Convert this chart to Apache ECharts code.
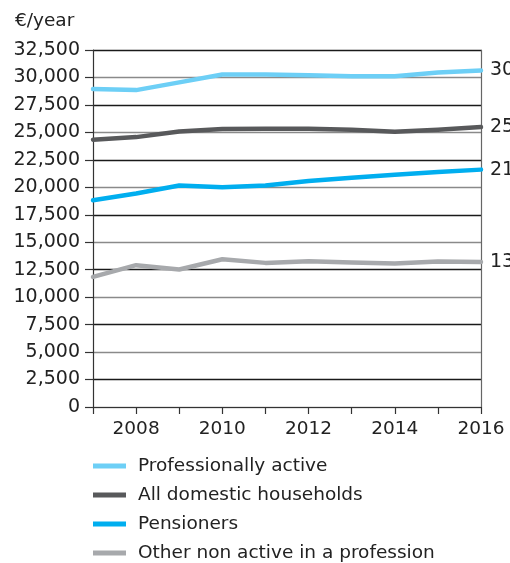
<!DOCTYPE html>
<html>
<head>
<meta charset="utf-8">
<script src="https://cdn.jsdelivr.net/npm/echarts@6/dist/echarts.min.js"></script>
<style>
  html, body { margin: 0; padding: 0; background: #fff; }
  #chart { width: 510px; height: 563px; }
</style>
</head>
<body>
<div id="chart"></div>
<script>
// Annual net income per household type, euros per year
const years = [2007, 2008, 2009, 2010, 2011, 2012, 2013, 2014, 2015, 2016];
const professionallyActive = [28950, 28850, 29550, 30270, 30270, 30200, 30100, 30100, 30450, 30640];
const allHouseholds = [24340, 24570, 25090, 25300, 25340, 25340, 25250, 25060, 25250, 25480];
const pensioners = [18820, 19430, 20160, 20000, 20160, 20580, 20880, 21150, 21390, 21610];
const otherNonActive = [11850, 12910, 12520, 13450, 13120, 13270, 13150, 13060, 13250, 13210];

const seriesNames = [
  'Professionally active',
  'All domestic households',
  'Pensioners',
  'Other non active in a profession'
];
const seriesValues = [professionallyActive, allHouseholds, pensioners, otherNonActive];
const seriesColors = ['#6dcff6', '#58595b', '#00aeef', '#a7a9ac'];

const FONT = 'DejaVu Sans';
const fmt = v => Math.round(v).toLocaleString('en-US');

const chart = echarts.init(document.getElementById('chart'), null, { renderer: 'canvas' });

chart.setOption({
  animation: false,
  textStyle: { fontFamily: FONT },
  title: {
    text: '€/year',
    left: 10,
    top: 7,
    textStyle: { fontFamily: FONT, fontSize: 18.5, fontWeight: 'normal', color: '#222' }
  },
  grid: { left: 93, right: 29, top: 50, bottom: 156 },
  legend: {
    orient: 'vertical',
    left: 93,
    top: 456,
    padding: 0,
    height: 110,
    icon: 'rect',
    itemWidth: 33,
    itemHeight: 5,
    itemGap: 9,
    textStyle: { fontFamily: FONT, fontSize: 18.5, color: '#222', lineHeight: 20, padding: [0, 0, 0, 7] },
    data: seriesNames
  },
  xAxis: {
    type: 'value',
    min: 2007,
    max: 2016,
    interval: 1,
    axisLine: { show: true, lineStyle: { color: '#333', width: 1.2 } },
    axisTick: { show: true, length: 7, lineStyle: { color: '#333', width: 1.2 } },
    axisLabel: {
      margin: 13,
      fontFamily: FONT,
      fontSize: 18.5,
      color: '#222',
      formatter: v => (v % 2 === 0 ? String(v) : '')
    },
    splitLine: { show: false }
  },
  yAxis: [
    {
      type: 'value',
      min: 0,
      max: 32500,
      interval: 2500,
      axisLine: { show: true, lineStyle: { color: '#333', width: 1.2 } },
      axisTick: { show: true, length: 8, lineStyle: { color: '#333', width: 1.2 } },
      axisLabel: {
        margin: 13,
        fontFamily: FONT,
        fontSize: 19,
        color: '#222',
        formatter: v => fmt(v)
      },
      splitLine: {
        show: true,
        lineStyle: { color: ['#8a8a8a', '#1a1a1a'], width: 1.4 }
      }
    },
    {
      type: 'value',
      position: 'right',
      min: 0,
      max: 32500,
      interval: 2500,
      axisLine: { show: true, lineStyle: { color: '#666', width: 1.2 } },
      axisTick: { show: false },
      axisLabel: { show: false },
      splitLine: { show: false }
    }
  ],
  series: seriesNames.map((name, i) => ({
    name,
    type: 'line',
    yAxisIndex: 0,
    data: years.map((y, j) => [y, seriesValues[i][j]]),
    showSymbol: false,
    symbol: 'none',
    lineStyle: { color: seriesColors[i], width: 4.5, cap: 'round', join: 'round' },
    itemStyle: { color: seriesColors[i] },
    endLabel: {
      show: true,
      distance: 9,
      fontFamily: FONT,
      fontSize: 19,
      color: '#222',
      formatter: p => fmt(p.value[1])
    },
    z: 3
  }))
});
</script>
</body>
</html>
